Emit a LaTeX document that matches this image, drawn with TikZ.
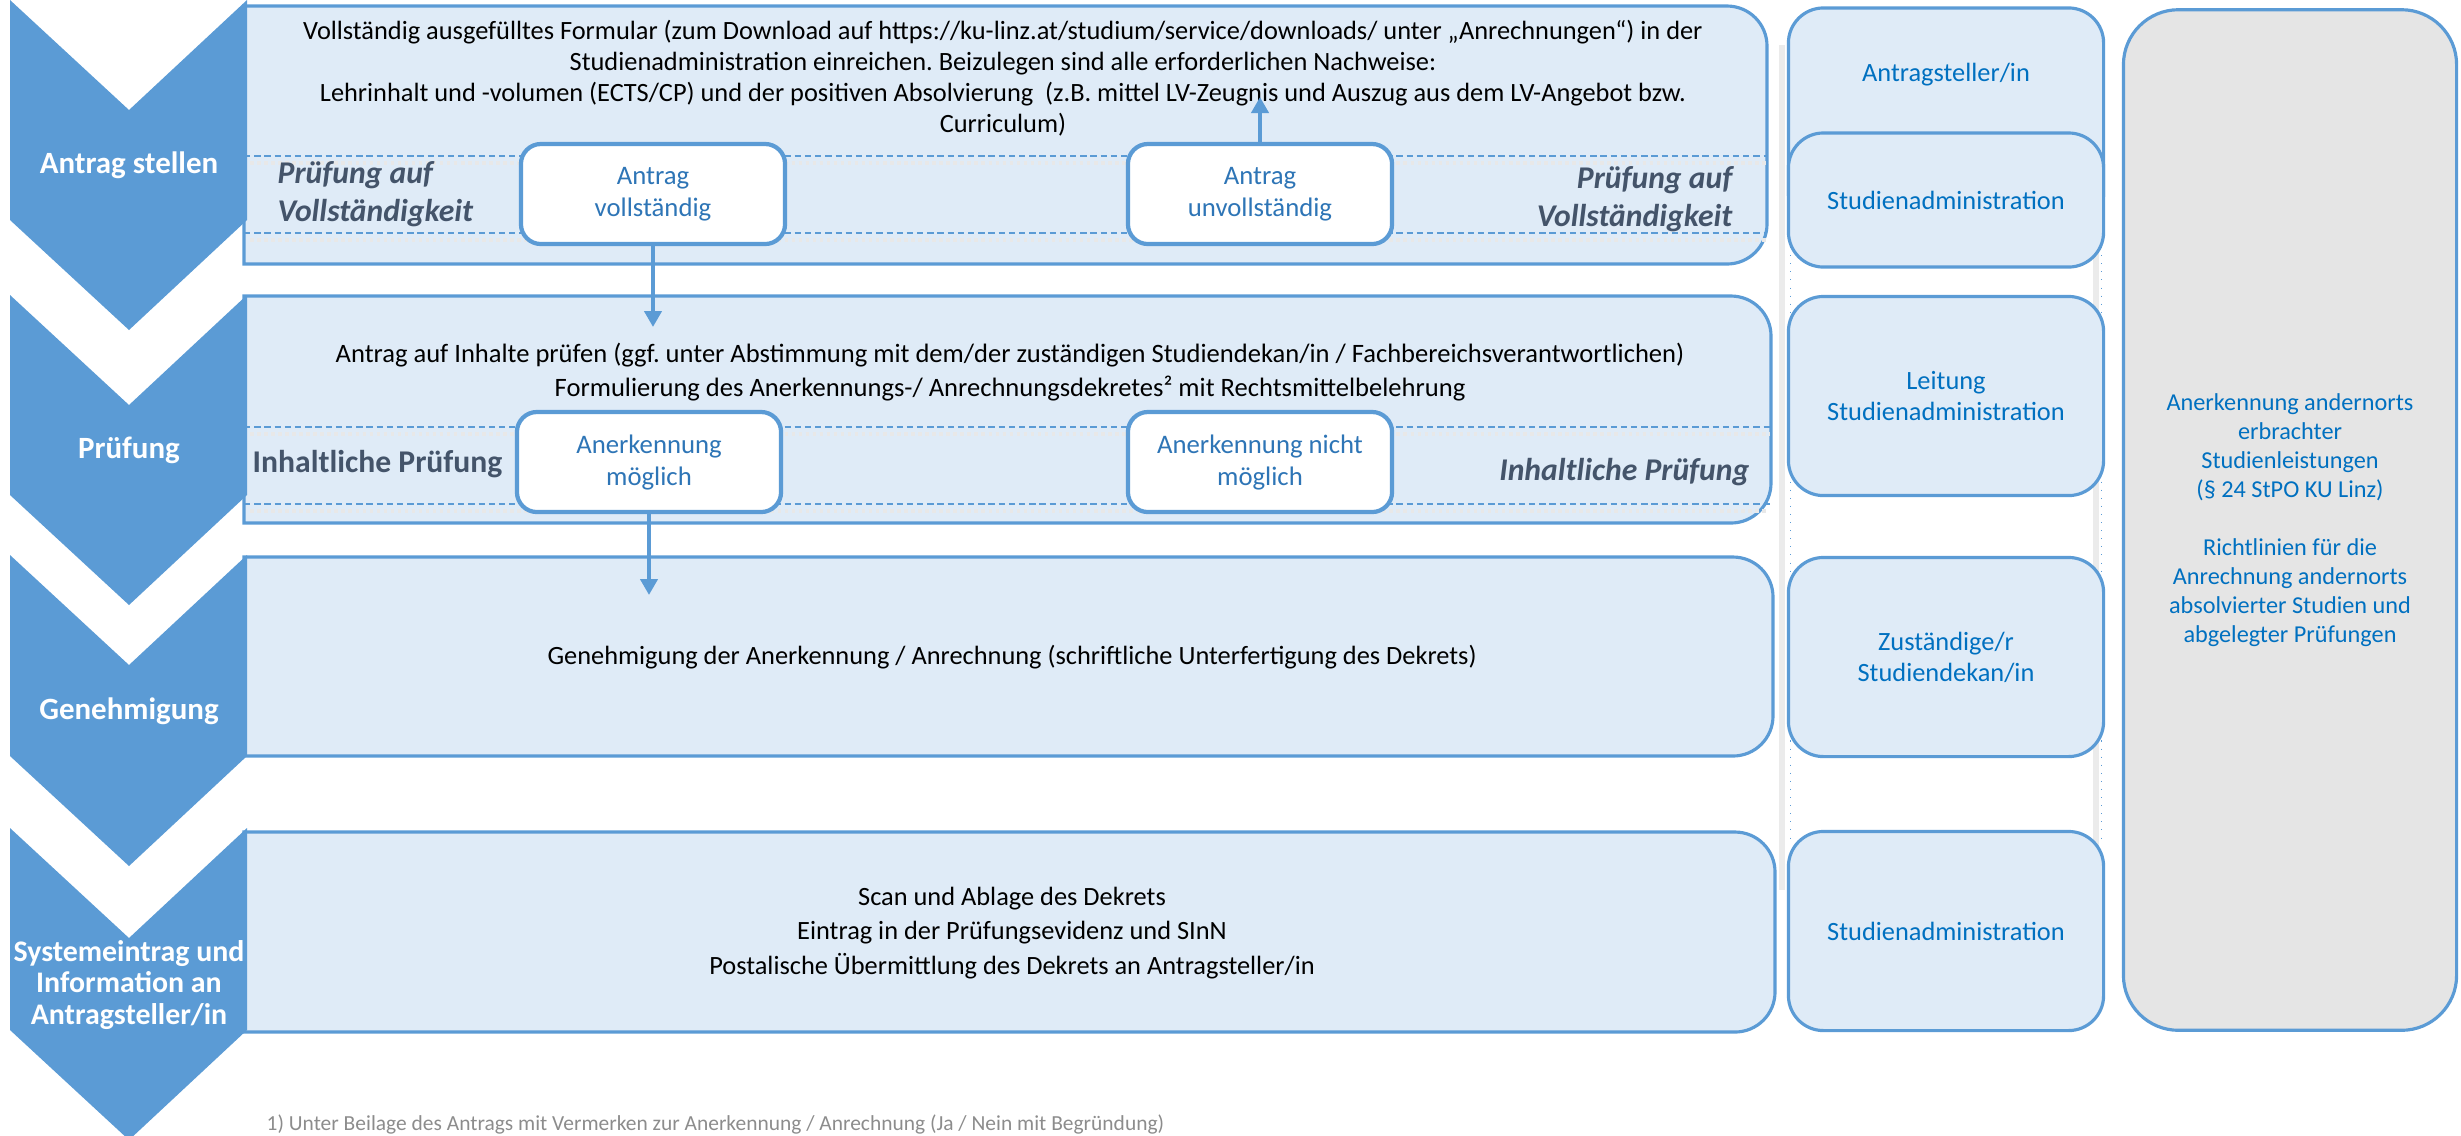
\documentclass[tikz,border=0pt]{standalone}
\usepackage{fontspec}
\setmainfont{Carlito}
\usepackage{tikz}
\usetikzlibrary{arrows.meta,calc,positioning}
\frenchspacing

\definecolor{chevblue}{HTML}{5B9BD5}
\definecolor{boxfill}{HTML}{DFEBF7}
\definecolor{boxline}{HTML}{5B9BD5}
\definecolor{greyfill}{HTML}{E5E5E5}
\definecolor{rolecol}{HTML}{0070C0}
\definecolor{choicecol}{HTML}{2E75B6}
\definecolor{labelgray}{HTML}{44546A}
\definecolor{footgray}{HTML}{8C8C8C}

\begin{document}
\begin{tikzpicture}[x=0.01cm, y=-0.01cm,
    chevron/.style={fill=chevblue},
    procbox/.style={fill=boxfill, draw=boxline, line width=0.9pt},
    steplbl/.style={text=white, align=center, font=\bfseries\fontsize{8.8}{9}\selectfont},
    bodytext/.style={align=center, inner sep=0, font=\fontsize{7.5}{8.8}\selectfont},
    sepline/.style={draw=boxline, line width=0.45pt, dash pattern=on 1.8pt off 1.1pt},
    sepshadow/.style={draw=black!9, line width=1.3pt, dash pattern=on 1pt off 1pt},
    choicebox/.style={fill=white, draw=boxline, line width=1.2pt, rounded corners=0.2cm, minimum width=2.64cm, minimum height=1cm, inner sep=0, align=center, text=choicecol, font=\fontsize{7.6}{9.1}\selectfont},
    checklbl/.style={text=labelgray, inner sep=0, font=\bfseries\itshape\fontsize{9}{10.8}\selectfont},
    rolebox/.style={fill=boxfill, draw=boxline, line width=0.9pt, rounded corners=0.35cm, minimum width=3.15cm, inner sep=0, align=center, text=rolecol, font=\fontsize{7.5}{8.8}\selectfont},
    normbox/.style={fill=greyfill, draw=boxline, line width=0.9pt, rounded corners=0.55cm, minimum width=3.33cm, minimum height=10.2cm, inner sep=0, align=center, text=rolecol, font=\fontsize{6.9}{8.25}\selectfont},
    flow/.style={draw=boxline, line width=0.04cm, -{Triangle[width=0.17cm,length=0.16cm]}}
]
    \useasboundingbox (0,0) rectangle (2461,1135);

    %coordinates
    \coordinate (pruefIn) at (653,327);
    \coordinate (formIn)  at (1260,97);
    \coordinate (genIn)   at (649,595);

    %process boxes (right corners rounded)
    \draw[procbox] (1000,6) [rounded corners=0.4cm] -- (1767,6) -- (1767,264) -- (1000,264) [sharp corners] -- (244,264) -- (244,6) -- cycle;
    \draw[procbox] (1000,296) [rounded corners=0.4cm] -- (1771,296) -- (1771,523) -- (1000,523) [sharp corners] -- (244,523) -- (244,296) -- cycle;
    \draw[procbox] (1000,557) [rounded corners=0.4cm] -- (1773,557) -- (1773,756) -- (1000,756) [sharp corners] -- (244,756) -- (244,557) -- cycle;
    \draw[procbox] (1000,832) [rounded corners=0.4cm] -- (1775,832) -- (1775,1032) -- (1000,1032) [sharp corners] -- (244,1032) -- (244,832) -- cycle;

    %chevrons
    \fill[chevron] (10,0) -- (129,110) -- (247,0) -- (247,220) -- (129,330) -- (10,220) -- cycle;
    \fill[chevron] (10,295) -- (129,405) -- (247,295) -- (247,495) -- (129,605) -- (10,495) -- cycle;
    \fill[chevron] (10,555) -- (129,665) -- (247,555) -- (247,756) -- (129,866) -- (10,756) -- cycle;
    \fill[chevron] (10,828) -- (129,938) -- (247,828) -- (247,1030) -- (129,1140) -- (10,1030) -- cycle;

    \node[steplbl] (stepAntrag) at (129,165) {Antrag stellen};
    \node[steplbl] (stepPruef)  at (129,450) {Prüfung};
    \node[steplbl] (stepGen)    at (129,711) {Genehmigung};
    \node[steplbl, font=\bfseries\fontsize{8.5}{9}\selectfont] (stepSys) at (129,985) {Systemeintrag und\\Information an\\Antragsteller/in};

    %separator lines
    \draw[sepshadow] (250,163) -- (1766,163);
    \draw[sepshadow] (250,240) -- (1766,240);
    \draw[sepshadow] (250,434) -- (1770,434);
    \draw[sepshadow] (250,511) -- (1768,511);
    \draw[sepline] (244,156) -- (1767,156);
    \draw[sepline] (244,233) -- (1767,233);
    \draw[sepline] (244,427) -- (1771,427);
    \draw[sepline] (244,504) -- (1771,504);

    %texts in the process boxes
    \node[bodytext] (formText) at (1003,78) {Vollständig ausgefülltes Formular (zum Download auf https://ku-linz.at/studium/service/downloads/ unter „Anrechnungen“) in der\\Studienadministration einreichen. Beizulegen sind alle erforderlichen Nachweise:\\Lehrinhalt und -volumen (ECTS/CP) und der positiven Absolvierung\ \ (z.B. mittel LV-Zeugnis und Auszug aus dem LV-Angebot bzw.\\Curriculum)};
    \node[bodytext, font=\fontsize{7.55}{9.7}\selectfont] (pruefText) at (1010,372) {Antrag auf Inhalte prüfen (ggf. unter Abstimmung mit dem/der zuständigen Studiendekan/in / Fachbereichsverantwortlichen)\\Formulierung des Anerkennungs-/ Anrechnungsdekretes² mit Rechtsmittelbelehrung};
    \node[bodytext] (genText) at (1012,657) {Genehmigung der Anerkennung / Anrechnung (schriftliche Unterfertigung des Dekrets)};
    \node[bodytext, font=\fontsize{7.5}{9.8}\selectfont] (sysText) at (1012,933) {Scan und Ablage des Dekrets\\Eintrag in der Prüfungsevidenz und SInN\\Postalische Übermittlung des Dekrets an Antragsteller/in};

    \node[checklbl, anchor=west, align=left]  (checkLeft)  at (277,194) {Prüfung auf\\Vollständigkeit};
    \node[checklbl, anchor=east, align=right] (checkRight) at (1733,199) {Prüfung auf\\Vollständigkeit};
    \node[checklbl, anchor=west, font=\bfseries\fontsize{9}{10.8}\selectfont] (contLeft) at (252,464) {Inhaltliche Prüfung};
    \node[checklbl, anchor=east] (contRight) at (1750,472) {Inhaltliche Prüfung};

    %edges
    \draw[flow] (653,244) -- (pruefIn);
    \draw[flow] (1260,145) -- (formIn);
    \draw[flow] (649,512) -- (genIn);

    %decision boxes
    \node[choicebox] (vollBox)   at (653,194)  {Antrag\\vollständig};
    \node[choicebox] (unvollBox) at (1260,194) {Antrag\\unvollständig};
    \node[choicebox] (moeglBox)  at (649,462)  {Anerkennung\\möglich};
    \node[choicebox] (nichtBox)  at (1260,462) {Anerkennung nicht\\möglich};

    %roles
    \draw[black!8, line width=0.06cm] (1782,45) -- (1782,890);
    \draw[black!8, line width=0.06cm] (2096,150) -- (2096,850);
    \draw[boxline, line width=0.3pt, dotted] (1790,150) -- (1790,843);
    \draw[boxline, line width=0.3pt, dotted] (2101,150) -- (2101,843);

    \node[rolebox, minimum height=2.2cm] (applBox) at (1946,118) {};
    \node[text=rolecol, font=\fontsize{7.5}{8.8}\selectfont] (applText) at (1946,75) {Antragsteller/in};
    \node[rolebox, minimum height=1.34cm] (adminBox) at (1946,200) {Studienadministration};
    \node[rolebox, minimum height=1.99cm] (leadBox) at (1946,396) {Leitung\\Studienadministration};
    \node[rolebox, minimum height=1.99cm] (deanBox) at (1946,657) {Zuständige/r\\Studiendekan/in};
    \node[rolebox, minimum height=1.99cm] (adminBoxB) at (1946,931) {Studienadministration};

    \node[normbox] (normBox) at (2290,520) {Anerkennung andernorts\\erbrachter\\Studienleistungen\\(§ 24 StPO KU Linz)\\[8.25pt]Richtlinien für die\\Anrechnung andernorts\\absolvierter Studien und\\abgelegter Prüfungen};

    %footnote
    \node[anchor=west, inner sep=0, text=footgray, font=\fontsize{6.1}{7}\selectfont] (footNote) at (266,1124) {1) Unter Beilage des Antrags mit Vermerken zur Anerkennung / Anrechnung (Ja / Nein mit Begründung)};
\end{tikzpicture}
\end{document}
